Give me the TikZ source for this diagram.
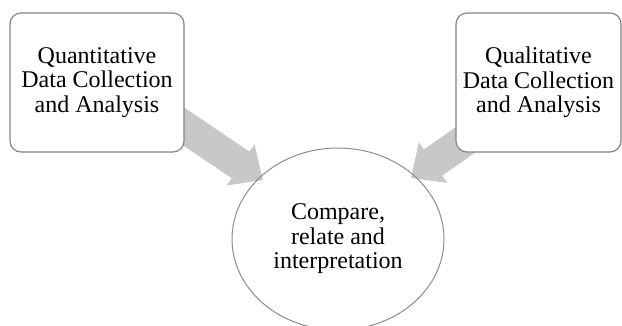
\documentclass[tikz,border=0pt]{standalone}
\usepackage{fontspec}
\setmainfont{Liberation Serif}
\usetikzlibrary{arrows.meta,shapes.geometric,backgrounds,calc}
\definecolor{boxline}{HTML}{858585}
\definecolor{arrowfill}{HTML}{C8C8C8}
\definecolor{ellline}{HTML}{8C8C8C}
\tikzset{
 txt/.style={font=\fontsize{24bp}{24.5bp}\selectfont, align=center, text=black},
 roundbox/.style={txt, draw=boxline, line width=1.2bp, fill=white, rounded corners=11bp, inner sep=0pt},
 ovalnode/.style={txt, ellipse, draw=ellline, line width=1bp, inner sep=0pt, minimum width=212bp, minimum height=182bp},
 bigarrow/.style={draw=arrowfill, line width=32bp, -{Triangle[width=48bp,length=27bp]}, fill=arrowfill}
}
\begin{document}
\begin{tikzpicture}[x=1bp,y=-1bp]
\useasboundingbox (0,0) rectangle (622,325);
\clip (0,0) rectangle (622,325);
\node[roundbox, minimum width=174bp, minimum height=139bp] (qn) at (97,82.5) {Quantitative\\Data Collection\\and Analysis};
\node[roundbox, minimum width=165bp, minimum height=139bp] (ql) at (538.5,82.5) {Qualitative\\Data Collection\\and Analysis};
\node[ovalnode] (cr) at (338,239) {Compare,\\relate and\\interpretation};
\coordinate (lt) at (263,180);
\coordinate (rt) at (411,178);
\begin{pgfonlayer}{background}
\draw[bigarrow] ($(qn.center)+(58.2,24.8)$) -- (lt);
\draw[bigarrow] ($(ql.center)+(-21,20.9)$) -- (rt);
\end{pgfonlayer}
\end{tikzpicture}
\end{document}
